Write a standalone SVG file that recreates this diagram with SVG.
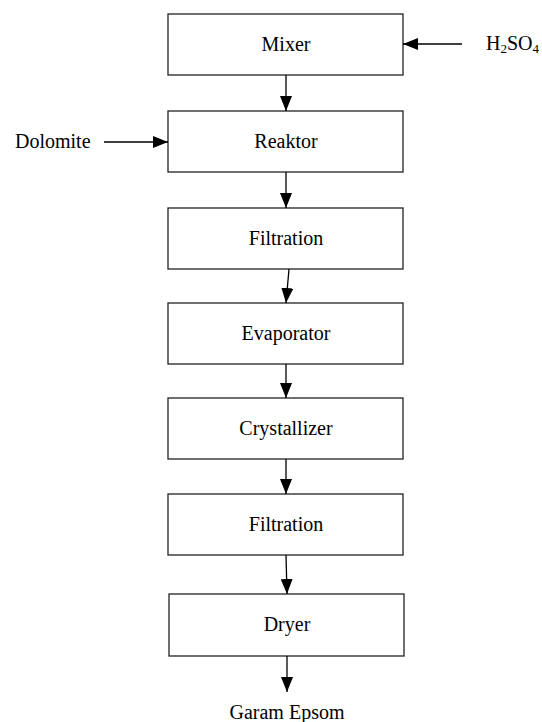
<svg xmlns="http://www.w3.org/2000/svg" width="542" height="722" viewBox="0 0 542 722">
<style>
.box{fill:#fff;stroke:#222;stroke-width:1.3}
text{font-family:"Liberation Serif","Times New Roman",serif;font-size:20px;fill:#000}
.c{text-anchor:middle}
.sub{font-size:13px}
#connectors line{stroke:#000;stroke-width:1.3;marker-end:url(#ah)}
</style>
<defs>
<marker id="ah" markerUnits="userSpaceOnUse" markerWidth="16" markerHeight="12" refX="15" refY="6" orient="auto">
<path d="M0,0 L15,6 L0,12 Z" fill="#000"/>
</marker>
</defs>
<rect width="542" height="722" fill="#fff"/>
<g id="mixer"><rect class="box" x="168" y="14" width="235" height="61"/><text class="c" x="286" y="51">Mixer</text></g>
<g id="reaktor"><rect class="box" x="168" y="111" width="235" height="61"/><text class="c" x="286" y="148">Reaktor</text></g>
<g id="filtration1"><rect class="box" x="168" y="208" width="235" height="61"/><text class="c" x="286" y="245">Filtration</text></g>
<g id="evaporator"><rect class="box" x="168" y="303" width="235" height="61"/><text class="c" x="286" y="340">Evaporator</text></g>
<g id="crystallizer"><rect class="box" x="168" y="398" width="235" height="61"/><text class="c" x="286" y="435">Crystallizer</text></g>
<g id="filtration2"><rect class="box" x="168" y="494" width="235" height="61"/><text class="c" x="286" y="531">Filtration</text></g>
<g id="dryer"><rect class="box" x="169" y="594" width="235" height="62"/><text class="c" x="287" y="631">Dryer</text></g>
<g id="h2so4"><text x="486" y="50">H<tspan class="sub" dy="3">2</tspan><tspan dy="-3">SO</tspan><tspan class="sub" dy="3">4</tspan></text></g>
<g id="dolomite"><text x="15" y="148">Dolomite</text></g>
<g id="garam"><text class="c" x="287" y="719">Garam Epsom</text></g>
<g id="connectors">
<line x1="462" y1="44" x2="403" y2="44"/>
<line x1="104" y1="142" x2="168" y2="142"/>
<line x1="286" y1="75" x2="286" y2="111"/>
<line x1="286" y1="172" x2="286" y2="208"/>
<line x1="289" y1="269" x2="286" y2="303"/>
<line x1="286" y1="364" x2="286" y2="398"/>
<line x1="286" y1="459" x2="286" y2="494"/>
<line x1="286" y1="555" x2="287" y2="594"/>
<line x1="287" y1="656" x2="287" y2="692"/>
</g>
</svg>
